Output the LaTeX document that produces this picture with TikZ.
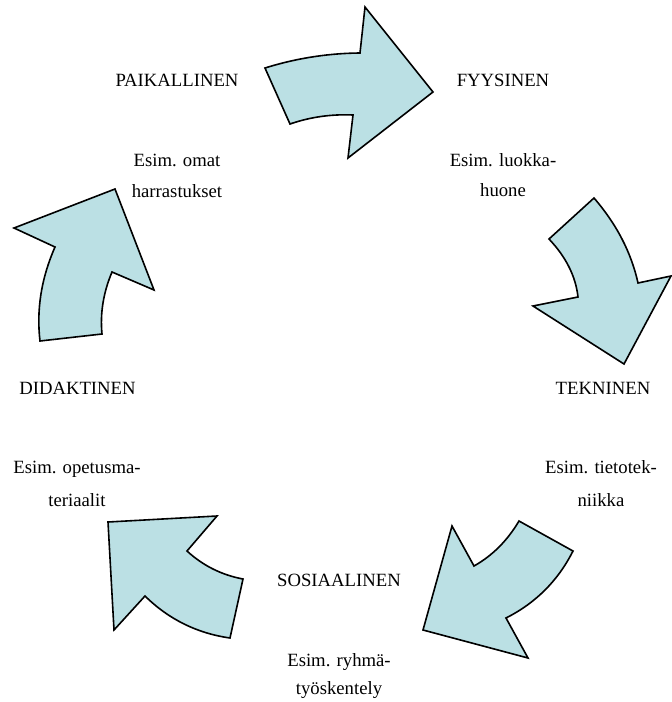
\documentclass[tikz,border=0pt]{standalone}
\usepackage{fontspec}
\setmainfont{Liberation Serif}
\definecolor{arrowfill}{RGB}{187,224,228}
\begin{document}
\begin{tikzpicture}[x=1pt,y=-1pt,
  cyclearrow/.style={draw=black,line width=1.6pt,fill=arrowfill,line join=miter},
  lbl/.style={anchor=base,inner sep=0pt,font=\fontsize{18.7}{22}\selectfont}]
\useasboundingbox (0,0) rectangle (672,702);
% arrow 1 (top)
\draw[cyclearrow] (265,68) .. controls (296,58.3) and (327.7,53.3) .. (360,53)
  -- (365,7) -- (433,92) -- (348,158) -- (353,115)
  .. controls (331.3,114) and (310.3,117) .. (290,124) -- cycle;
% arrow 2 (right)
\draw[cyclearrow] (549,239) -- (594,198)
  .. controls (616.7,224.3) and (631.3,252.7) .. (638,283)
  -- (671,276) -- (624,364) -- (533,306) -- (578,297)
  .. controls (575.7,276.3) and (566,257) .. cycle;
% arrow 3 (bottom right)
\draw[cyclearrow] (519,521) -- (573,551)
  .. controls (558,580.7) and (535.7,603) .. (506,618)
  -- (528,658) -- (423,630) -- (452,526) -- (474,566)
  .. controls (492.3,555.7) and (507.3,540.7) .. cycle;
% arrow 4 (bottom left)
\draw[cyclearrow] (108,522) -- (217,516) -- (187,551)
  .. controls (203,565.7) and (221.7,575) .. (243,579)
  -- (230,638)
  .. controls (197,633.3) and (168.7,619.3) .. (145,596)
  -- (114,630) -- cycle;
% arrow 5 (left)
\draw[cyclearrow] (115,189) -- (14,228) -- (55,247)
  .. controls (41.3,278.3) and (36.3,309.7) .. (40,341)
  -- (102,334)
  .. controls (100,313.3) and (103.3,292.7) .. (112,272)
  -- (154,290) -- cycle;
% labels
\node[lbl] (paik) at (177,86) {PAIKALLINEN};
\node[lbl] (paik1) at (177,166) {Esim. omat};
\node[lbl] (paik2) at (177,197.7) {harrastukset};
\node[lbl] (fyys) at (503,86) {FYYSINEN};
\node[lbl] (fyys1) at (503,166) {Esim. luokka-};
\node[lbl] (fyys2) at (503,196.7) {huone};
\node[lbl] (tekn) at (603,394) {TEKNINEN};
\node[lbl] (tekn1) at (601,473.3) {Esim. tietotek-};
\node[lbl] (tekn2) at (601,506.7) {niikka};
\node[lbl] (dida) at (77.5,394) {DIDAKTINEN};
\node[lbl] (dida1) at (77,473.3) {Esim. opetusma-};
\node[lbl] (dida2) at (77,506.7) {teriaalit};
\node[lbl] (sosi) at (339,586) {SOSIAALINEN};
\node[lbl] (sosi1) at (339,666) {Esim. ryhmä-};
\node[lbl] (sosi2) at (339,694) {työskentely};
\end{tikzpicture}
\end{document}
